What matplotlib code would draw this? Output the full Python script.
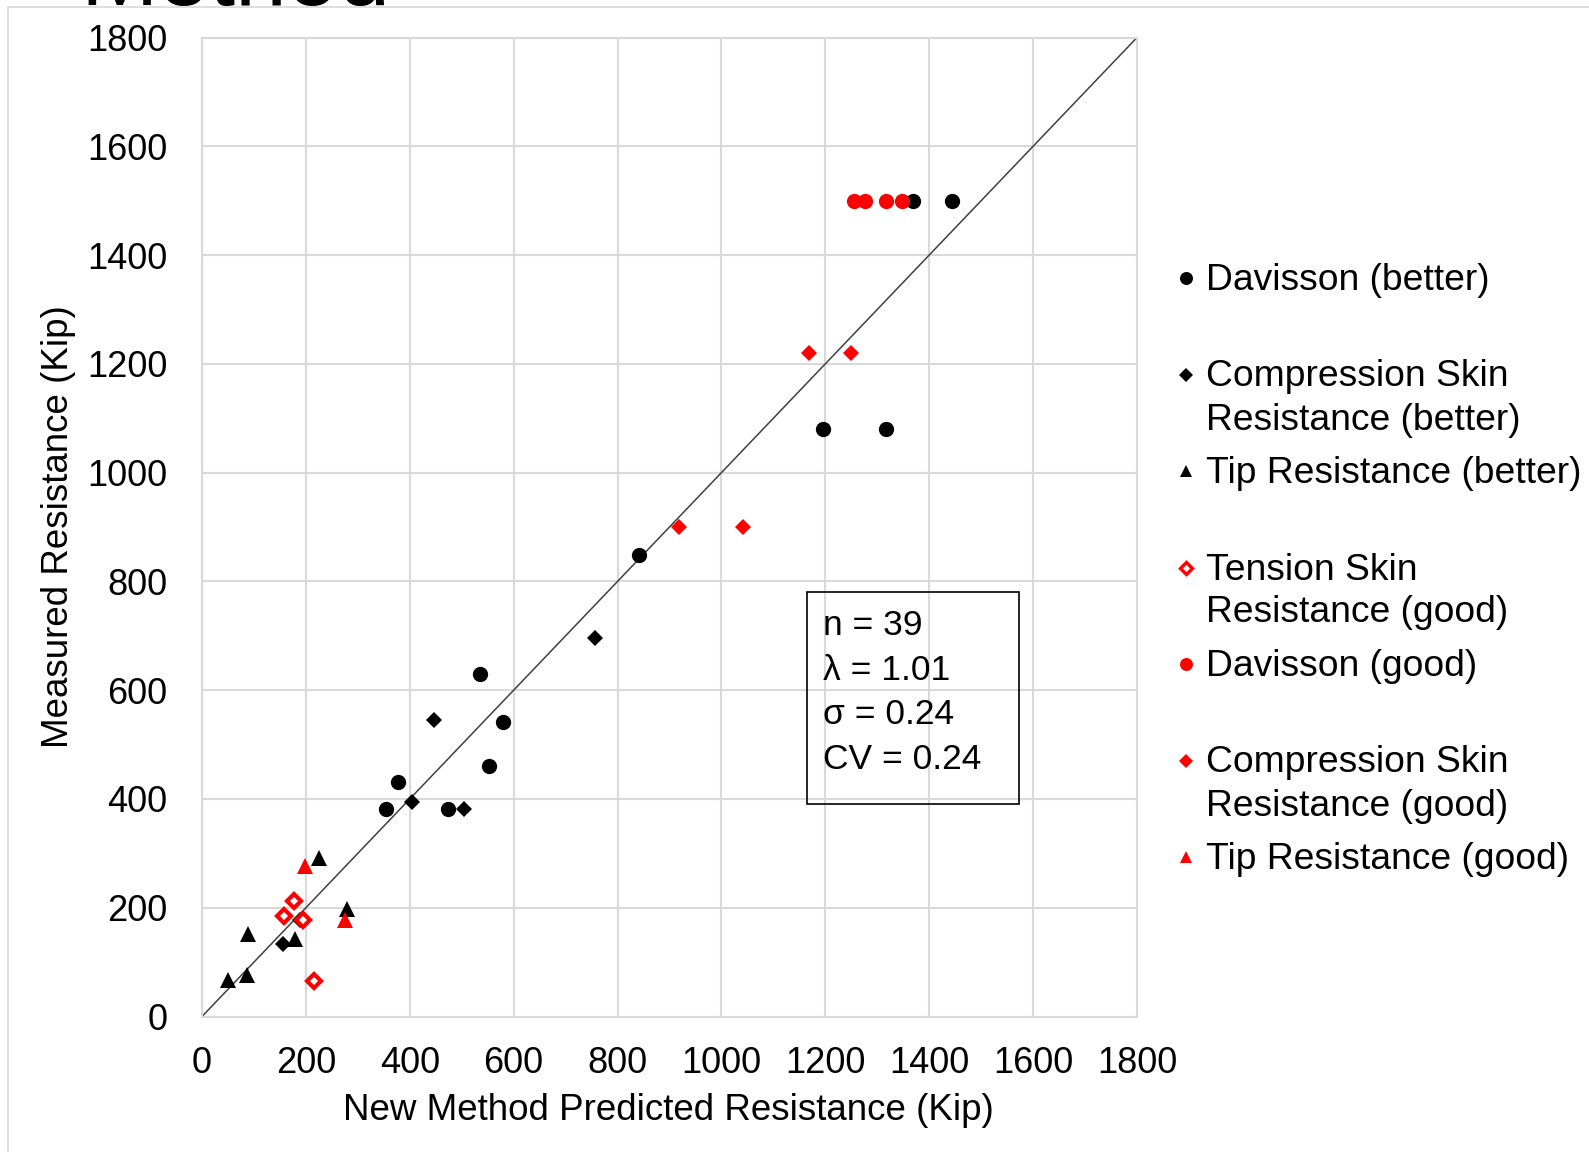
import matplotlib
matplotlib.use('Agg')
import matplotlib.pyplot as plt
from matplotlib.lines import Line2D
from matplotlib.patches import Rectangle

plt.rcParams['font.family'] = ['Liberation Sans', 'DejaVu Sans']

# data (Kip)
davisson_better_x = [1368, 1444, 1196, 1317, 842, 535, 579, 552, 377, 354, 474]
davisson_better_y = [1500, 1500, 1080, 1080, 848, 630, 541, 460, 432, 381, 381]
comp_better_x = [447, 404, 504, 757, 156, 189]
comp_better_y = [545, 394, 381, 696, 133, 177]
tip_better_x = [225, 279, 89, 179, 51, 87]
tip_better_y = [292, 197, 151, 142, 68, 77]
tension_good_x = [177, 158, 194, 216]
tension_good_y = [212, 184, 177, 65]
davisson_good_x = [1255, 1276, 1317, 1348]
davisson_good_y = [1500, 1500, 1500, 1500]
comp_good_x = [918, 1042, 1169, 1249]
comp_good_y = [900, 900, 1220, 1220]
tip_good_x = [198, 276]
tip_good_y = [276, 177]

labels = ["Davisson (better)",
          "Compression Skin\nResistance (better)",
          "Tip Resistance (better)",
          "Tension Skin\nResistance (good)",
          "Davisson (good)",
          "Compression Skin\nResistance (good)",
          "Tip Resistance (good)"]

ticks = [0, 200, 400, 600, 800, 1000, 1200, 1400, 1600, 1800]
stats = ["n = 39", "\u03bb = 1.01", "\u03c3 = 0.24", "CV = 0.24"]

W, H = 1589, 1152


def fx(px):
    return px / W


def fy(py):
    return 1 - py / H


fig = plt.figure(figsize=(W / 100, H / 100), dpi=100)

# slide frame + cut off title
fig.add_artist(Rectangle((fx(8), fy(1200)), 2, fy(7) - fy(1200), transform=fig.transFigure,
                         fill=False, edgecolor='#d9d9d9', linewidth=1.2))
fig.text(fx(80), fy(4.5), "Method", fontsize=67, va='baseline', ha='left')

ax = fig.add_axes([fx(202), fy(1016.5), (1137 - 202) / W, (1016.5 - 37.5) / H])

# series: (x, y, marker, ms, face, edge, mew)
series = [
    (davisson_better_x, davisson_better_y, 'o', 11, 'black', 'black', 0),
    (comp_better_x, comp_better_y, 'D', 7.8, 'black', 'black', 0),
    (tip_better_x, tip_better_y, '^', 11, 'black', 'black', 0),
    (tension_good_x, tension_good_y, 'D', 7.2, 'white', 'red', 3),
    (davisson_good_x, davisson_good_y, 'o', 11, 'red', 'red', 0),
    (comp_good_x, comp_good_y, 'D', 7.8, 'red', 'red', 0),
    (tip_good_x, tip_good_y, '^', 11, 'red', 'red', 0),
]

ax.plot([ticks[0], ticks[-1]], [ticks[0], ticks[-1]], color='#404040', linewidth=1.1, zorder=2)
for x, y, m, ms, fc, ec, mew in series:
    ax.plot(x, y, linestyle='none', marker=m, markersize=ms, markerfacecolor=fc,
            markeredgecolor=ec, markeredgewidth=mew, zorder=3)

ax.set_xlim(ticks[0], ticks[-1])
ax.set_ylim(ticks[0], ticks[-1])
ax.set_xticks(ticks)
ax.set_yticks(ticks)
ax.grid(True, color='#d9d9d9', linewidth=1.5)
ax.set_axisbelow(True)
for s in ax.spines.values():
    s.set_color('#d9d9d9')
    s.set_linewidth(1.5)
ax.tick_params(axis='both', length=0, labelsize=26)
ax.tick_params(axis='x', pad=21)
ax.tick_params(axis='y', pad=25)

fig.text(fx(668), fy(1110), "New Method Predicted Resistance (Kip)", fontsize=26.5,
         ha='center', va='center')
fig.text(fx(59), fy(527), "Measured Resistance (Kip)", fontsize=26.5, rotation=90,
         ha='center', va='center')

# stats box
fig.add_artist(Rectangle((fx(807), fy(804)), (1019 - 807) / W, (804 - 592) / H,
                         transform=fig.transFigure, fill=False, edgecolor='black',
                         linewidth=1.2, zorder=5))
for i, line in enumerate(stats):
    fig.text(fx(823), fy(635 + 44.7 * i), line, fontsize=25.5, va='baseline', ha='left')

# legend, one block of two lines per entry
for i, (lab, s) in enumerate(zip(labels, series)):
    base = 290 + 96.5 * i
    m, ms, fc, ec, mew = s[2], s[3] * 0.85, s[4], s[5], s[6] * 0.8
    fig.add_artist(Line2D([fx(1186)], [fy(base - 12)], transform=fig.transFigure,
                          linestyle='none', marker=m, markersize=ms, markerfacecolor=fc,
                          markeredgecolor=ec, markeredgewidth=mew))
    for j, part in enumerate(lab.split("\n")):
        fig.text(fx(1206), fy(base + 43 * j), part, fontsize=26.8, va='baseline', ha='left')

plt.savefig("out.png", dpi=100)
